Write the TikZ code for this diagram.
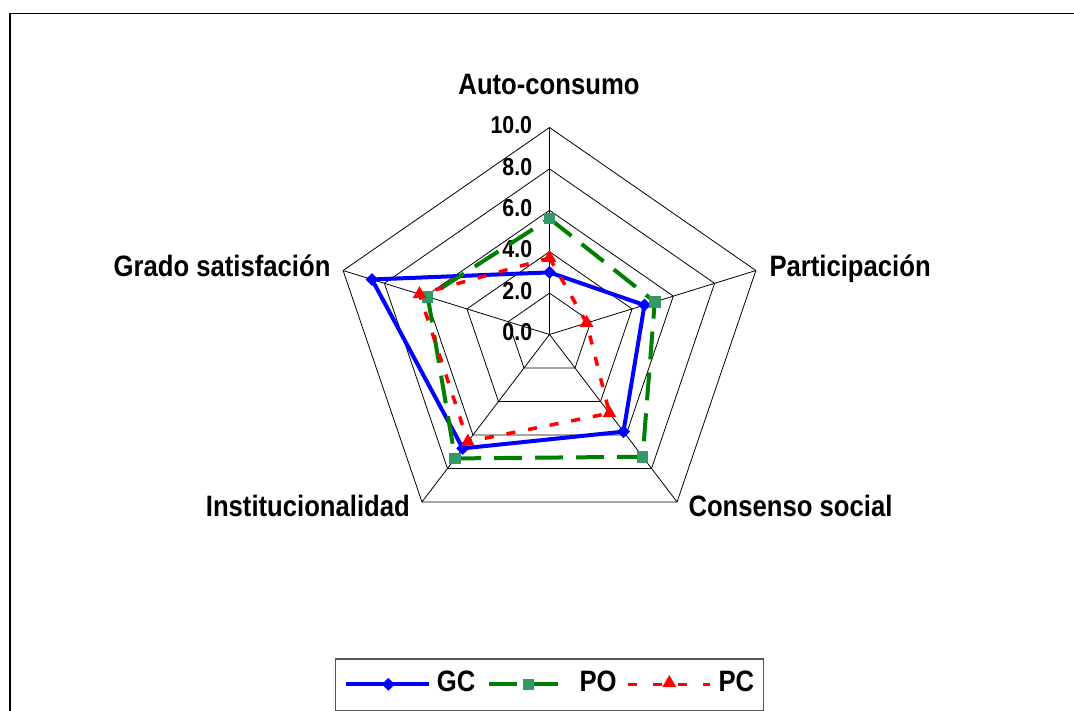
\documentclass[tikz,border=0pt]{standalone}
\usepackage{fontspec}
\usetikzlibrary{shapes.geometric}
\newfontfamily\chartfont[FakeStretch=0.87]{Liberation Sans Bold}
\definecolor{pogreen}{RGB}{0,128,0}
\definecolor{pomarker}{RGB}{51,153,102}
\definecolor{legframe}{RGB}{85,85,85}
\begin{document}
\begin{tikzpicture}[x=1pt,y=-1pt,
  gridline/.style={draw=black, line width=0.8pt},
  axislbl/.style={font=\chartfont\fontsize{29.5}{31}\selectfont, inner sep=0pt},
  ticklbl/.style={font=\chartfont\fontsize{24.5}{26}\selectfont, inner sep=0pt, anchor=base east},
  gcline/.style={draw=blue, line width=4pt, line join=round},
  poline/.style={draw=pogreen, line width=4pt, dash pattern=on 28pt off 13pt},
  pcline/.style={draw=red, line width=3.5pt, dash pattern=on 9pt off 13pt},
  gcmark/.style={diamond, fill=blue, inner sep=0pt, minimum size=13pt},
  pomark/.style={rectangle, fill=pomarker, inner sep=0pt, minimum size=11.5pt},
  pcmark/.style={regular polygon, regular polygon sides=3, fill=red, inner sep=0pt, minimum size=16pt},
]
\useasboundingbox (0,0) rectangle (1074,711);
\fill[white] (0,0) rectangle (1074,711);
% outer frame
\coordinate (fr1) at (10,711);
\coordinate (fr2) at (10,13.5);
\coordinate (fr3) at (1074,13.5);
\draw[line width=1.5pt] (fr1) -- (fr2) -- (fr3);

\begin{scope}[shift={(549.5,334.5)}, x=21.7pt, y=20.7pt]
  \coordinate (O) at (0,0);
  \foreach \a [count=\i] in {90,18,-54,-126,162} {
    \coordinate (v\i) at (\a:10);
  }
  \foreach \r in {2,4,6,8,10} {
    \draw[gridline] (90:\r) -- (18:\r) -- (-54:\r) -- (-126:\r) -- (162:\r) -- cycle;
  }
  \foreach \i in {1,...,5} { \draw[gridline] (O) -- (v\i); }
  \foreach \a/\v [count=\i] in {90/3.0,18/4.6,-54/5.8,-126/6.8,162/8.6} {
    \coordinate (gc\i) at (\a:\v);
  }
  \foreach \a/\v [count=\i] in {90/5.6,18/5.1,-54/7.3,-126/7.4,162/5.9} {
    \coordinate (po\i) at (\a:\v);
  }
  \foreach \a/\v [count=\i] in {90/3.7,18/1.8,-54/4.7,-126/6.4,162/6.3} {
    \coordinate (pc\i) at (\a:\v);
  }
\end{scope}

% tick labels
\foreach \v/\t in {0/0.0,2/2.0,4/4.0,6/6.0,8/8.0,10/10.0} {
  \node[ticklbl] (tick\v) at (532.3,{334.5-20.7*\v+6.3}) {\t};
}

% series
\draw[gcline] (gc1) -- (gc2) -- (gc3) -- (gc4) -- (gc5) -- cycle;
\foreach \i in {1,...,5} { \node[gcmark] (gcm\i) at (gc\i) {}; }
\draw[poline] (po1) -- (po2) -- (po3) -- (po4) -- (po5) -- cycle;
\foreach \i in {1,...,5} { \node[pomark] (pom\i) at (po\i) {}; }
\draw[pcline] (pc1) -- (pc2) -- (pc3) -- (pc4) -- (pc5) -- cycle;
\foreach \i in {1,...,5} { \node[pcmark] (pcm\i) at (pc\i) {}; }

% axis labels
\node[axislbl, anchor=base] (lauto) at (549,95) {Auto-consumo};
\node[axislbl, anchor=base west] (lpart) at (769.3,277) {Participación};
\node[axislbl, anchor=base west] (lcons) at (688.3,516.7) {Consenso social};
\node[axislbl, anchor=base east] (linst) at (410,516.7) {Institucionalidad};
\node[axislbl, anchor=base east] (lgrad) at (330.7,277) {Grado satisfación};

% legend
\node[draw=legframe, line width=1.2pt, minimum width=427.7pt, minimum height=51.7pt, inner sep=0pt, anchor=north west] (legend) at (335,658.3) {};
\coordinate (lgA) at (345.7,684.3);
\coordinate (lgB) at (429,684.3);
\draw[gcline] (lgA) -- (lgB);
\node[gcmark] (lgm) at (388.3,684.3) {};
\node[axislbl, anchor=base west] (lgt) at (436.7,691.7) {GC};
\coordinate (lpA) at (489.3,684.3);
\coordinate (lpB) at (561.7,684.3);
\draw[poline] (lpA) -- (lpB);
\node[pomark] (lpm) at (528.3,684.3) {};
\node[axislbl, anchor=base west] (lpt) at (579.3,691.7) {PO};
\coordinate (lcA) at (627.7,684.3);
\coordinate (lcB) at (710,684.3);
\draw[pcline, dash pattern=on 9.5pt off 15.5pt] (lcA) -- (lcB);
\node[pcmark] (lcm) at (669.3,683) {};
\node[axislbl, anchor=base west] (lct) at (718.3,691.7) {PC};
\end{tikzpicture}
\end{document}
